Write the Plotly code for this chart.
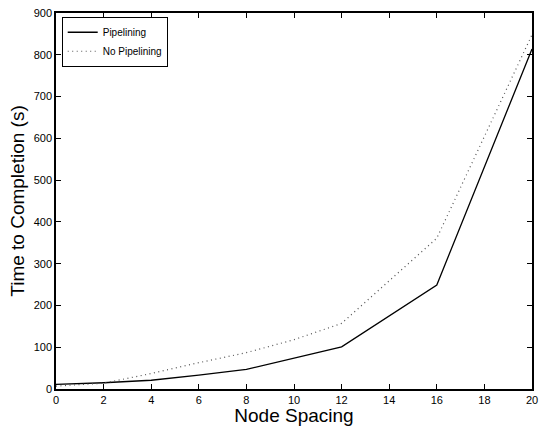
import plotly.graph_objects as go

node_spacing = [0, 2, 4, 6, 8, 10, 12, 16, 20]
pipelining = [11, 15, 21, 33, 47, 74, 101, 249, 814]
no_pipelining = [7, 14, 37, 63, 87, 118, 157, 361, 848]

x_ticks = list(range(0, 21, 2))
y_ticks = list(range(0, 901, 100))

fig = go.Figure()
fig.add_trace(go.Scatter(x=node_spacing, y=pipelining, mode="lines", name="Pipelining",
                         line=dict(color="black", width=1.3, dash="solid")))
fig.add_trace(go.Scatter(x=node_spacing, y=no_pipelining, mode="lines", name="No Pipelining",
                         line=dict(color="#555555", width=1.2, dash="1px,3.5px")))

axis_common = dict(showgrid=False, zeroline=False, showline=True, linecolor="black", linewidth=1.5,
                   mirror="ticks", ticks="inside", ticklen=5, tickcolor="black", tickwidth=1,
                   automargin=False,
                   tickfont=dict(family="Liberation Sans, Arial", size=11, color="black"))

title_font = dict(family="Liberation Sans, Arial", size=19, color="black")
fig.update_xaxes(range=[0, 20], tickvals=x_ticks, **axis_common,
                 title=dict(text="Node Spacing", font=title_font, standoff=0))
fig.update_yaxes(range=[0, 900], tickvals=y_ticks, **axis_common,
                 title=dict(text="Time to Completion (s)", font=title_font, standoff=4))

fig.update_layout(
    width=539, height=426,
    margin=dict(l=56, r=7, t=13, b=37),
    paper_bgcolor="white", plot_bgcolor="white",
    showlegend=True,
    legend=dict(x=0.012, y=0.99, xanchor="left", yanchor="top",
                bgcolor="white", bordercolor="black", borderwidth=1,
                font=dict(family="Liberation Sans, Arial", size=10, color="black"),
                itemwidth=30, tracegroupgap=0),
)

fig.write_html("out.html")
